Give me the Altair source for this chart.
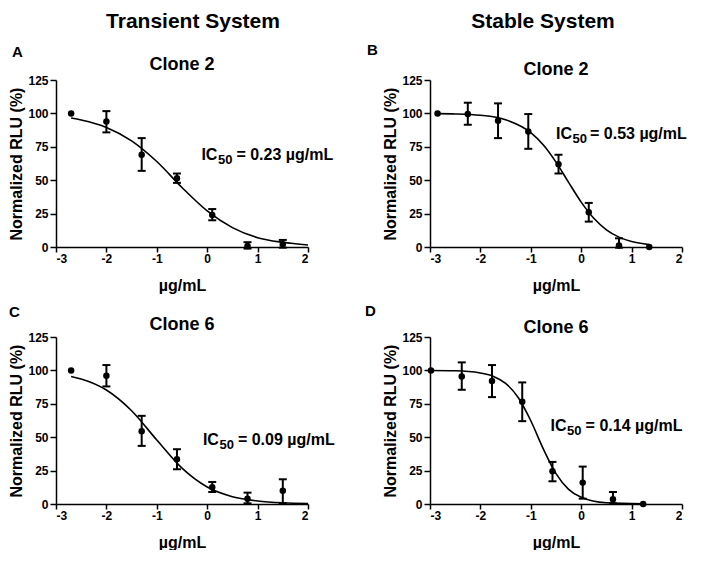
import altair as alt
import pandas as pd

FONT = "Liberation Sans"
W = 252
H = 167

# ---------------- Panel A : Transient System, Clone 2 ----------------
a_x = [-2.7, -2.0, -1.3, -0.6, 0.1, 0.8, 1.5]
a_y = [100, 94, 69, 51.5, 24, 0.8, 2]
a_hi = [None, 101.7, 81.5, 55, 28.4, 3.6, 5.3]
a_lo = [None, 85.8, 57, 48, 20, -1.2, -0.5]
a_cx = [-2.7, -2.5, -2.0, -1.5, -1.0, -0.5, 0.0, 0.5, 1.0, 1.5, 2.0]
a_cy = [96.5, 95, 89.5, 79.5, 64, 44.5, 27, 14.5, 7, 3.5, 1.5]

# ---------------- Panel B : Stable System, Clone 2 ----------------
b_x = [-2.85, -2.25, -1.65, -1.05, -0.45, 0.15, 0.75, 1.35]
b_y = [100, 99.5, 94.5, 86.5, 62, 26, 1.2, 0]
b_hi = [None, 108, 107.5, 99.5, 69, 33, 6.5, None]
b_lo = [None, 91.5, 81.5, 73.5, 55, 19, -0.5, None]
b_cx = [-2.85, -2.5, -2.0, -1.5, -1.0, -0.75, -0.5, -0.25, 0.0, 0.25, 0.5, 0.75, 1.0, 1.35]
b_cy = [99.8, 99.6, 98.6, 95.3, 85.6, 76.3, 63.5, 48.4, 33.6, 21.5, 12.9, 7.4, 4.1, 1.8]

# ---------------- Panel C : Transient System, Clone 6 ----------------
c_x = [-2.7, -2.0, -1.3, -0.6, 0.1, 0.8, 1.5]
c_y = [100, 96, 54.5, 33.5, 12.5, 4, 10]
c_hi = [None, 104, 66, 41, 16.5, 8.5, 18.5]
c_lo = [None, 88, 43.5, 26, 9, 0.5, 0.5]
c_cx = [-2.7, -2.5, -2.0, -1.5, -1.0, -0.5, 0.0, 0.5, 1.0, 1.5, 2.0]
c_cy = [95.5, 93.6, 85.3, 69.8, 47.9, 26.8, 12.7, 5.5, 2.3, 0.9, 0.4]

# ---------------- Panel D : Stable System, Clone 6 ----------------
d_x = [-2.98, -2.37, -1.77, -1.17, -0.57, 0.03, 0.63, 1.23]
d_y = [100, 95.5, 92, 76.5, 24.5, 16, 3.5, 0]
d_hi = [None, 106, 104, 91, 31.5, 28, 9, None]
d_lo = [None, 85.5, 80, 62, 17, 4, 0.5, None]
d_cx = [-3.0, -2.5, -2.0, -1.75, -1.5, -1.25, -1.0, -0.75, -0.5, -0.25, 0.0, 0.5, 1.23]
d_cy = [99.9, 99.7, 98.1, 95.7, 90.3, 79.7, 62.3, 41.1, 22.7, 11.0, 5.0, 0.9, 0.1]

x_ticks = [-3, -2, -1, 0, 1, 2]
y_ticks = [0, 25, 50, 75, 100, 125]

xs = alt.Scale(domain=[-3, 2], nice=False, zero=False)
ys = alt.Scale(domain=[0, 125], nice=False)
xax = alt.Axis(values=x_ticks, title="µg/mL", labelExpr="'' + datum.value")
yax = alt.Axis(values=y_ticks, title="Normalized RLU (%)")


def X(f):
    return alt.X(f, type="quantitative", scale=xs, axis=xax)


def Y(f):
    return alt.Y(f, type="quantitative", scale=ys, axis=yax)


def label(text, x, y, size, align="left", baseline="middle"):
    return alt.Chart(pd.DataFrame({"t": [0]})).mark_text(
        text=text, align=align, baseline=baseline, fontSize=size,
        fontWeight="bold", color="black", font=FONT
    ).encode(x=alt.value(x), y=alt.value(y))


def panel(px, py, plo, phi, cx, cy, ic_x, ic_y, ic_val, eq_dx,
          letter, letter_x, letter_y, title, title_y, header=None, header_x=0):
    pts = pd.DataFrame({"x": px, "y": py})
    err = pd.DataFrame({"x": px, "lo": plo, "hi": phi}).dropna()
    curve = pd.DataFrame({"x": cx, "y": cy})
    ic = pd.DataFrame({"x": [ic_x], "y": [ic_y]})

    line = alt.Chart(curve).mark_line(
        color="black", strokeWidth=1.6, interpolate="monotone"
    ).encode(x=X("x"), y=Y("y"))
    rule = alt.Chart(err).mark_rule(color="black", strokeWidth=2).encode(
        x=X("x"), y=Y("lo"), y2=alt.Y2("hi"))
    cap_hi = alt.Chart(err).mark_tick(
        orient="horizontal", size=8, thickness=2, color="black", opacity=1
    ).encode(x=X("x"), y=Y("hi"))
    cap_lo = alt.Chart(err).mark_tick(
        orient="horizontal", size=8, thickness=2, color="black", opacity=1
    ).encode(x=X("x"), y=Y("lo"))
    dots = alt.Chart(pts).mark_circle(size=42, color="black", opacity=1).encode(
        x=X("x"), y=Y("y"))
    t1 = alt.Chart(ic).mark_text(
        text="IC", align="left", baseline="middle", fontSize=16,
        fontWeight="bold", color="black", font=FONT
    ).encode(x=X("x"), y=Y("y"))
    t2 = alt.Chart(ic).mark_text(
        text="50", align="left", baseline="middle", fontSize=13, dx=16.5, dy=5,
        fontWeight="bold", color="black", font=FONT
    ).encode(x=X("x"), y=Y("y"))
    t3 = alt.Chart(ic).mark_text(
        text="= " + ic_val + " µg/mL", align="left", baseline="middle",
        fontSize=16, dx=eq_dx, fontWeight="bold", color="black", font=FONT
    ).encode(x=X("x"), y=Y("y"))

    layers = [line, rule, cap_hi, cap_lo, dots, t1, t2, t3,
              label(letter, letter_x, letter_y, 15),
              label(title, W / 2, title_y, 18, align="center")]
    if header:
        layers.append(label(header, W / 2 + header_x, -69, 21,
                            align="center", baseline="top"))
    return alt.layer(*layers).properties(width=W, height=H)


pA = panel(a_x, a_y, a_lo, a_hi, a_cx, a_cy, -0.115, 69, "0.23", 35,
           "A", -44, -28, "Clone 2", -15, "Transient System", 11)
pB = panel(b_x, b_y, b_lo, b_hi, b_cx, b_cy, -0.50, 84.6, "0.53", 34,
           "B", -63, -30, "Clone 2", -10, "Stable System", -13)
pC = panel(c_x, c_y, c_lo, c_hi, c_cx, c_cy, -0.085, 48, "0.09", 35,
           "C", -47, -25, "Clone 6", -12)
pD = panel(d_x, d_y, d_lo, d_hi, d_cx, d_cy, -0.607, 58.5, "0.14", 35,
           "D", -65, -26, "Clone 6", -9)

chart = alt.concat(
    pA, pB, pC, pD, columns=2,
    spacing={"row": 90, "column": 122},
    bounds="flush",
).properties(
    padding={"top": 3, "left": 0, "right": 0, "bottom": 0}
).configure(
    font=FONT
).configure_axis(
    labelFont=FONT, titleFont=FONT, labelFontWeight="bold", titleFontWeight="bold",
    labelFontSize=12, titleFontSize=16, labelColor="black", titleColor="black",
    domainColor="black", tickColor="black", domainWidth=1.5, tickWidth=1.5,
    grid=False
).configure_axisX(
    tickSize=5, labelPadding=1, titlePadding=13
).configure_axisY(
    tickSize=6, labelPadding=2, titlePadding=3
).configure_view(
    stroke=None
)

chart.save("out.html", embed_options={"renderer": "svg", "actions": False})
